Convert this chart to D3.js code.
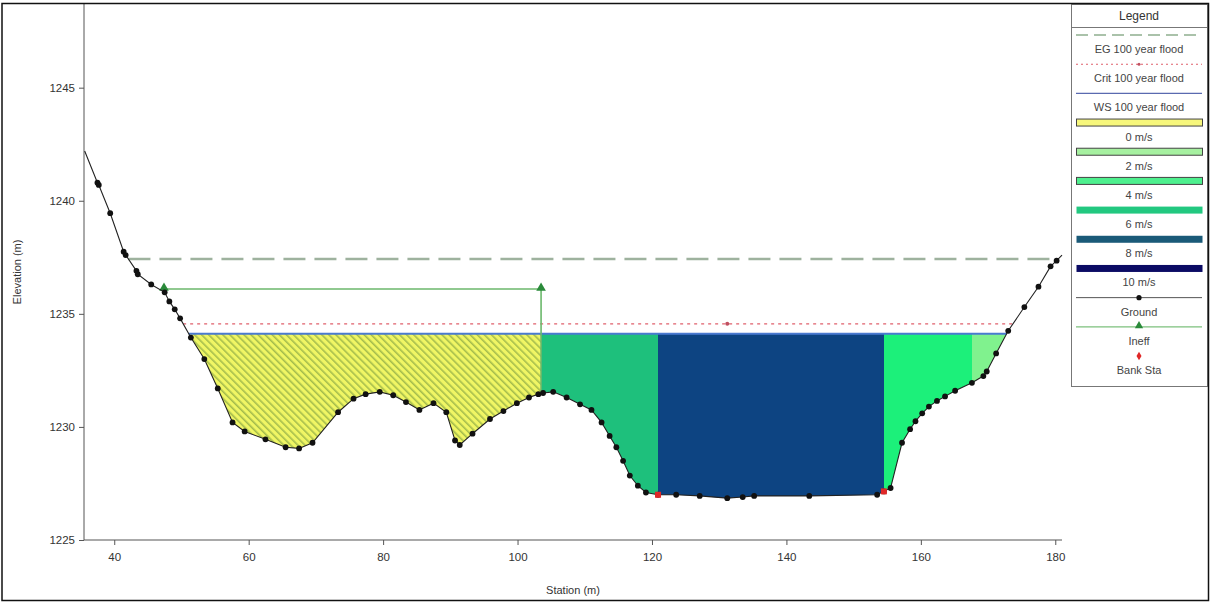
<!DOCTYPE html>
<html>
<head>
<meta charset="utf-8">
<script src="https://d3js.org/d3.v7.min.js"></script>
<style>
  html, body { margin: 0; padding: 0; background: #fff; }
  svg { display: block; font-family: "Liberation Sans", Arial, sans-serif; }
  .axis text { font-size: 11.5px; fill: #333; }
  .axis path, .axis line { stroke: #555; }
</style>
</head>
<body>
<svg id="chart" width="1211" height="603"></svg>
<script>
// ground profile
const stations = [35.6, 37.5, 37.7, 39.4, 41.4, 41.7, 43.3, 43.5, 45.5, 47.5, 48.2, 49.0, 49.8, 51.4, 53.4, 55.4, 57.6, 59.4, 62.5, 65.5, 67.5, 69.5, 73.3, 75.6, 77.4, 79.5, 81.5, 83.4, 85.4, 87.5, 89.4, 90.7, 91.4, 93.3, 95.9, 97.9, 99.9, 101.7, 103.1, 103.8, 105.3, 107.3, 109.3, 111.0, 112.5, 113.7, 114.7, 115.7, 116.7, 117.9, 119.1, 120.9, 123.6, 127.1, 131.2, 133.5, 135.2, 143.4, 153.5, 154.5, 155.5, 157.2, 158.4, 159.2, 160.2, 161.2, 162.4, 163.6, 165.1, 167.6, 169.3, 169.8, 171.2, 173.0, 175.4, 177.5, 179.3, 180.2, 181.0];
const elevations = [1242.2, 1240.8, 1240.7, 1239.45, 1237.75, 1237.6, 1236.9, 1236.75, 1236.3, 1235.95, 1235.55, 1235.2, 1234.8, 1233.95, 1233.0, 1231.7, 1230.2, 1229.8, 1229.45, 1229.1, 1229.05, 1229.3, 1230.65, 1231.25, 1231.45, 1231.55, 1231.4, 1231.1, 1230.75, 1231.05, 1230.65, 1229.4, 1229.2, 1229.7, 1230.35, 1230.7, 1231.05, 1231.3, 1231.45, 1231.5, 1231.55, 1231.3, 1231.0, 1230.75, 1230.2, 1229.6, 1229.1, 1228.5, 1227.85, 1227.4, 1227.1, 1227.0, 1227.0, 1226.95, 1226.85, 1226.9, 1226.95, 1226.95, 1227.0, 1227.15, 1227.3, 1229.3, 1229.9, 1230.25, 1230.6, 1230.9, 1231.15, 1231.35, 1231.6, 1231.95, 1232.25, 1232.45, 1233.25, 1234.25, 1235.3, 1236.2, 1237.1, 1237.35, 1237.6];

const bankStations = [120.9, 154.5];
const wsElev = 1234.12;
const critElev = 1234.56;
const egElev = 1237.42;
const ineffStations = [47.4, 103.5];
const ineffElev = 1236.1;

// velocity colour bands across the wetted section (station breaks)
const velocityBreaks = [103.5, 120.9, 154.5, 167.6];
const velocityBands = ["0", "6", "8", "4", "2"];

const xMajor = d3.range(40, 181, 20);
const xMinor = d3.range(36, 181, 4);
const yMajor = d3.range(1225, 1246, 5);
const yMinor = d3.range(1225, 1249, 1);

const legendLabels = ["EG 100 year flood", "Crit 100 year flood", "WS 100 year flood", "0 m/s", "2 m/s", "4 m/s", "6 m/s", "8 m/s", "10 m/s", "Ground", "Ineff", "Bank Sta"];

// colours
const bandFill = { "0": "url(#hatch)", "2": "#80f28e", "4": "#1cf07a", "6": "#1ec07c", "8": "#0d4482" };
const legendBarFill = ["#f7f77c", "#a6f0a0", "#4ef08e", "#22c880", "#1a5a78", "#0b0b64"];

const svg = d3.select("#chart");
const x = d3.scaleLinear().domain([35.5, 181]).range([84, 1062]);
const y = d3.scaleLinear().domain([1225, 1248.7]).range([540, 4]);

const ground = stations.map((s, i) => ({ s, e: elevations[i] }));

function groundAt(s) {
  for (let i = 1; i < ground.length; i++) {
    if (s <= ground[i].s) {
      const a = ground[i - 1], b = ground[i];
      return a.e + (b.e - a.e) * (s - a.s) / (b.s - a.s);
    }
  }
  return ground[ground.length - 1].e;
}

// stations where ground crosses a given elevation
function crossings(elev) {
  const out = [];
  for (let i = 1; i < ground.length; i++) {
    const a = ground[i - 1], b = ground[i];
    if ((a.e - elev) * (b.e - elev) < 0) {
      out.push(a.s + (elev - a.e) * (b.s - a.s) / (b.e - a.e));
    }
  }
  return out;
}

const defs = svg.append("defs");
const hatch = defs.append("pattern")
  .attr("id", "hatch")
  .attr("patternUnits", "userSpaceOnUse")
  .attr("width", 5).attr("height", 5)
  .attr("patternTransform", "rotate(-45)");
hatch.append("rect").attr("width", 5).attr("height", 5).attr("fill", "#f0f664");
hatch.append("rect").attr("width", 1.6).attr("height", 5).attr("fill", "#a4bc4c");

// water area (ground up to WS), with exact edge points added
const wsCross = crossings(wsElev);
const waterPts = ground.concat(wsCross.map(s => ({ s, e: wsElev }))).sort((a, b) => a.s - b.s);
const waterArea = d3.area()
  .x(d => x(d.s))
  .y0(d => y(d.e))
  .y1(d => y(Math.max(d.e, wsElev)));

const edges = [x.domain()[0]].concat(velocityBreaks, [x.domain()[1]]);
velocityBands.forEach((band, i) => {
  const id = "clip" + i;
  defs.append("clipPath").attr("id", id)
    .append("rect")
    .attr("x", x(edges[i])).attr("y", 0)
    .attr("width", x(edges[i + 1]) - x(edges[i])).attr("height", 603);
  svg.append("path")
    .datum(waterPts)
    .attr("clip-path", `url(#${id})`)
    .attr("fill", bandFill[band])
    .attr("d", waterArea);
});

// axes
const xAxis = svg.append("g").attr("class", "axis").attr("transform", "translate(0,540)");
xAxis.call(d3.axisBottom(x).tickValues(xMinor).tickSize(3).tickFormat(""));
xAxis.call(d3.axisBottom(x).tickValues(xMajor).tickSize(5).tickFormat(d3.format("d")).tickPadding(8));
xAxis.select(".domain").attr("d", `M${x.range()[0]},0H${x.range()[1]}`);

const yAxis = svg.append("g").attr("class", "axis").attr("transform", "translate(84,0)");
yAxis.call(d3.axisLeft(y).tickValues(yMinor).tickSize(3).tickFormat(""));
yAxis.call(d3.axisLeft(y).tickValues(yMajor).tickSize(5).tickFormat(d3.format("d")).tickPadding(4));
yAxis.select(".domain").attr("d", `M0,${y.range()[0]}V${y.range()[1]}`);
svg.selectAll(".axis text").attr("fill", "#333");

svg.append("text").attr("x", 573).attr("y", 594).attr("text-anchor", "middle")
  .attr("font-size", 11).attr("fill", "#333").text("Station (m)");
svg.append("text").attr("transform", "translate(21,272) rotate(-90)").attr("text-anchor", "middle")
  .attr("font-size", 11).attr("fill", "#333").text("Elevation (m)");

// level lines
function levelLine(elev) {
  const c = crossings(elev);
  return [c[0], c[c.length - 1]];
}
const egSpan = levelLine(egElev);
svg.append("line")
  .attr("x1", x(egSpan[0])).attr("x2", x(egSpan[1]))
  .attr("y1", y(egElev)).attr("y2", y(egElev))
  .attr("stroke", "#9eb29e").attr("stroke-width", 2.5).attr("stroke-dasharray", "22,9");

const critSpan = levelLine(critElev);
svg.append("line")
  .attr("x1", x(critSpan[0])).attr("x2", x(critSpan[1]))
  .attr("y1", y(critElev)).attr("y2", y(critElev))
  .attr("stroke", "#e0606c").attr("stroke-width", 1.3).attr("stroke-dasharray", "3,4");
// crit marker sits over the thalweg
const thalweg = ground[d3.minIndex(ground, d => d.e)].s;
svg.append("circle")
  .attr("cx", x(thalweg)).attr("cy", y(critElev)).attr("r", 2)
  .attr("fill", "#c05060");

const wsSpan = levelLine(wsElev);
svg.append("line")
  .attr("x1", x(wsSpan[0])).attr("x2", x(wsSpan[1]))
  .attr("y1", y(wsElev)).attr("y2", y(wsElev))
  .attr("stroke", "#4a7ad0").attr("stroke-width", 2);

// ineffective flow area
svg.append("path")
  .attr("d", d3.line()([
    [x(ineffStations[0]), y(ineffElev)],
    [x(ineffStations[1]), y(ineffElev)],
    [x(ineffStations[1]), y(groundAt(ineffStations[1]))]
  ]))
  .attr("fill", "none").attr("stroke", "#6cb86c").attr("stroke-width", 1.6);
svg.selectAll(".ineff").data(ineffStations).join("path")
  .attr("class", "ineff")
  .attr("transform", s => `translate(${x(s)},${y(ineffElev) - 1})`)
  .attr("d", d3.symbol(d3.symbolTriangle, 40))
  .attr("fill", "#2a8a3a");

// ground
svg.append("path")
  .datum(ground)
  .attr("d", d3.line().x(d => x(d.s)).y(d => y(d.e)))
  .attr("fill", "none").attr("stroke", "#222").attr("stroke-width", 1.1);
svg.selectAll(".gpt").data(ground.slice(1, -1)).join("circle")
  .attr("class", "gpt")
  .attr("cx", d => x(d.s)).attr("cy", d => y(d.e)).attr("r", 2.9)
  .attr("fill", "#111");
svg.selectAll(".bank").data(bankStations).join("rect")
  .attr("class", "bank")
  .attr("x", s => x(s) - 3).attr("y", s => y(groundAt(s)) - 3)
  .attr("width", 6).attr("height", 6)
  .attr("fill", "#e02828");

// legend
const lg = svg.append("g");
lg.append("rect").attr("x", 1071.5).attr("y", 4.5).attr("width", 136).attr("height", 382)
  .attr("fill", "#fff").attr("stroke", "#777");
lg.append("line").attr("x1", 1071.5).attr("x2", 1207.5).attr("y1", 27.5).attr("y2", 27.5).attr("stroke", "#777");
lg.append("text").attr("x", 1139).attr("y", 20).attr("text-anchor", "middle")
  .attr("font-size", 12).attr("fill", "#333").text("Legend");

const ly = d3.scaleLinear().domain([0, legendLabels.length - 1]).range([35, 356]);
const lx0 = 1076, lx1 = 1202, lxm = 1139;
legendLabels.forEach((label, i) => {
  const yy = ly(i);
  if (i === 0) {
    lg.append("line").attr("x1", lx0).attr("x2", lx1).attr("y1", yy).attr("y2", yy)
      .attr("stroke", "#8fae8f").attr("stroke-width", 1.3).attr("stroke-dasharray", "12,6");
  } else if (i === 1) {
    lg.append("line").attr("x1", lx0).attr("x2", lx1).attr("y1", yy).attr("y2", yy)
      .attr("stroke", "#e0606c").attr("stroke-width", 1.1).attr("stroke-dasharray", "2,3");
    lg.append("circle").attr("cx", lxm).attr("cy", yy).attr("r", 1.5).attr("fill", "#c05060");
  } else if (i === 2) {
    lg.append("line").attr("x1", lx0).attr("x2", lx1).attr("y1", yy).attr("y2", yy)
      .attr("stroke", "#5a6ab0").attr("stroke-width", 1.2);
  } else if (i <= 8) {
    const k = i - 3;
    lg.append("rect").attr("x", lx0 + 0.5).attr("y", yy - 3.5).attr("width", lx1 - lx0).attr("height", 7)
      .attr("fill", legendBarFill[k]).attr("stroke", k < 3 ? "#444" : "none").attr("stroke-width", 1);
  } else if (i === 9) {
    lg.append("line").attr("x1", lx0).attr("x2", lx1).attr("y1", yy).attr("y2", yy)
      .attr("stroke", "#555").attr("stroke-width", 1);
    lg.append("circle").attr("cx", lxm).attr("cy", yy).attr("r", 2.6).attr("fill", "#111");
  } else if (i === 10) {
    lg.append("line").attr("x1", lx0).attr("x2", lx1).attr("y1", yy).attr("y2", yy)
      .attr("stroke", "#7cc07c").attr("stroke-width", 1.2);
    lg.append("path").attr("transform", `translate(${lxm},${yy - 1})`)
      .attr("d", d3.symbol(d3.symbolTriangle, 30)).attr("fill", "#2a8a3a");
  } else {
    lg.append("path").attr("transform", `translate(${lxm},${yy})`)
      .attr("d", d3.symbol(d3.symbolDiamond, 22)).attr("fill", "#e02828");
  }
  lg.append("text").attr("x", lxm).attr("y", yy + 18).attr("text-anchor", "middle")
    .attr("font-size", 11).attr("fill", "#444").text(label);
});

// outer frame
svg.append("rect").attr("x", 2).attr("y", 3.5).attr("width", 1206.5).attr("height", 597)
  .attr("fill", "none").attr("stroke", "#111").attr("stroke-width", 1.5);
</script>
</body>
</html>
